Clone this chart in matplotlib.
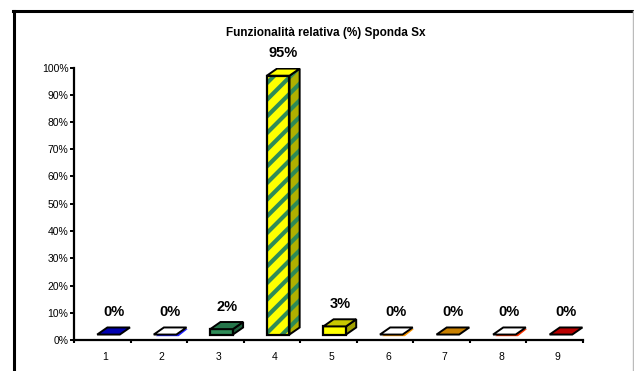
import matplotlib
matplotlib.use("Agg")
import matplotlib.pyplot as plt
from matplotlib.patches import Polygon
from matplotlib.ticker import FuncFormatter, MultipleLocator
import numpy as np

plt.rcParams['font.family'] = ['Liberation Sans', 'DejaVu Sans']
plt.rcParams['hatch.linewidth'] = 3.0

# dati
categorie = ['1', '2', '3', '4', '5', '6', '7', '8', '9']
valori = [0.0, 0.0, 0.02, 0.95, 0.03, 0.0, 0.0, 0.0, 0.0]
etichette = ['0%', '0%', '2%', '95%', '3%', '0%', '0%', '0%', '0%']
titolo = 'Funzionalità relativa (%) Sponda Sx'

# colori: fronte, sopra, lato
col_fronte = ['#0000C8', '#FFFFFF', '#2E8B57', '#FFFF00', '#FFFF00', '#FFFFFF', '#E09000', '#FFFFFF', '#D00000']
col_sopra = ['#0000B0', '#FFFFFF', '#25754A', '#FFFF00', '#C8C800', '#FFFFFF', '#C88000', '#FFFFFF', '#B80000']
col_lato = ['#000090', '#FFFFFF', '#1E5E3C', '#B0B000', '#A0A000', '#FFFFFF', '#A06600', '#FFFFFF', '#900000']
col_sotto = [None, '#2020FF', None, None, None, '#FF9900', None, '#FF3300', None]

fig = plt.figure(figsize=(6.34, 3.71), dpi=100)
ax = fig.add_axes([74 / 634, 31 / 371, 509 / 634, 272.5 / 371])

base = 0.02      # pavimento 3D
w = 0.40         # larghezza faccia frontale
sx = -0.09       # spostamento bordo sinistro
dx = 0.18        # profondita' orizzontale
dy = 0.026       # profondita' verticale

x = np.arange(1, len(categorie) + 1)
for i, v in enumerate(valori):
    x0 = x[i] + sx
    x1 = x0 + w
    y0 = base
    y1 = base + v
    if col_sotto[i] is not None:
        ax.add_patch(Polygon([(x0 + 0.04, y1 - 0.006), (x1 + 0.04, y1 - 0.006),
                              (x1 + dx + 0.02, y1 + dy - 0.006), (x0 + dx + 0.02, y1 + dy - 0.006)],
                             closed=True, facecolor=col_sotto[i], edgecolor='none', zorder=2))
    hatch = '//' if i == 3 else None
    if v > 0:
        ax.bar(x0, v, bottom=y0, width=w, align='edge', color=col_fronte[i],
               edgecolor='#2E8B57' if hatch else 'black', hatch=hatch, linewidth=0, zorder=3)
        ax.bar(x0, v, bottom=y0, width=w, align='edge', fill=False,
               edgecolor='black', linewidth=1.6, zorder=4)
        ax.add_patch(Polygon([(x1, y0), (x1 + dx, y0 + dy), (x1 + dx, y1 + dy), (x1, y1)],
                             closed=True, facecolor=col_lato[i],
                             edgecolor='#2E8B57' if hatch else 'black', hatch=hatch,
                             linewidth=0, zorder=3))
        ax.add_patch(Polygon([(x1, y0), (x1 + dx, y0 + dy), (x1 + dx, y1 + dy), (x1, y1)],
                             closed=True, fill=False, edgecolor='black', linewidth=1.4, zorder=4))
    ax.add_patch(Polygon([(x0, y1), (x1, y1), (x1 + dx, y1 + dy), (x0 + dx, y1 + dy)],
                         closed=True, facecolor=col_sopra[i], edgecolor='black',
                         linewidth=1.4, zorder=5))
    ax.annotate(etichette[i], (x0 + (w + dx) / 2, y1 + dy), xytext=(0, 6),
                textcoords='offset points', ha='center', va='bottom',
                fontsize=10.5, fontweight='bold', annotation_clip=False)

ax.set_xlim(0.5, len(categorie) + 0.5)
ax.set_ylim(0, 1.0)

ax.set_xticks(x + 0.05)
ax.set_xticklabels(categorie)
ax.xaxis.set_minor_locator(MultipleLocator(1.0, offset=0.5))
ax.tick_params(axis='x', which='major', length=0, pad=9, labelsize=7.5)
ax.tick_params(axis='x', which='minor', length=2.5, width=1.5, direction='out')

ax.yaxis.set_major_locator(MultipleLocator(0.1))
ax.yaxis.set_major_formatter(FuncFormatter(lambda v, p: '%d%%' % round(v * 100)))
ax.tick_params(axis='y', length=3, width=1.4, pad=1, labelsize=7.5)

for s in ['top', 'right']:
    ax.spines[s].set_visible(False)
ax.spines['left'].set_linewidth(1.6)
ax.spines['bottom'].set_linewidth(1.6)

fig.text(326 / 634, 1 - 33 / 371, titolo, ha='center', va='center',
         fontsize=8.5, fontweight='bold')

# cornice dell'area del grafico
fig.add_artist(plt.Line2D([13.5 / 634, 13.5 / 634], [0, 1 - 11 / 371],
                          color='black', linewidth=2.2, transform=fig.transFigure))
fig.add_artist(plt.Line2D([12.5 / 634, 632.5 / 634], [1 - 11 / 371, 1 - 11 / 371],
                          color='black', linewidth=2.2, transform=fig.transFigure))
fig.add_artist(plt.Line2D([632.5 / 634, 632.5 / 634], [0, 1 - 11 / 371],
                          color='#BBBBBB', linewidth=1.0, transform=fig.transFigure))

fig.savefig('out.png', dpi=100)
